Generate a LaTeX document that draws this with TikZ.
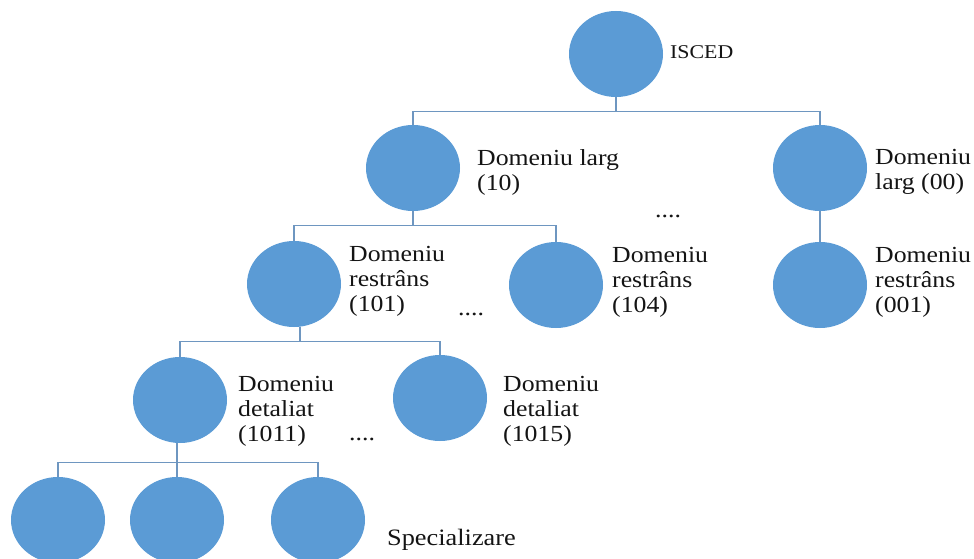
\documentclass[tikz,border=0pt]{standalone}
\usepackage{fontspec}
\setmainfont{Liberation Serif}[FakeStretch=1.12]
\usetikzlibrary{shapes.geometric,calc}
\definecolor{circ}{HTML}{5B9BD5}
\definecolor{connc}{RGB}{110,150,192}
\definecolor{txt}{HTML}{141414}
\begin{document}
\begin{tikzpicture}[x=1pt,y=-1pt,
  dom/.style={ellipse,fill=circ,minimum width=94pt,minimum height=86pt,inner sep=0pt},
  lbl/.style={anchor=north west,inner sep=0pt,align=left,text=txt,font=\fontsize{23}{25}\selectfont},
  single/.style={anchor=base west,inner sep=0pt,text=txt},
  conn/.style={draw=connc,line width=1.3pt}]
\clip (0,0) rectangle (974,559);
\useasboundingbox (0,0) rectangle (974,559);
% circles
\node[dom] (isced) at (616,54) {};
\node[dom] (l10) at (413,168) {};
\node[dom] (l00) at (820,168) {};
\node[dom] (r101) at (294,284) {};
\node[dom] (r104) at (556,285) {};
\node[dom] (r001) at (820,285) {};
\node[dom] (d1011) at (180,400) {};
\node[dom] (d1015) at (440,398) {};
\node[dom] (s1) at (58,520) {};
\node[dom] (s2) at (177,520) {};
\node[dom] (s3) at (318,520) {};
% connectors
\draw[conn] (isced.south) -- ++(0,14) -| (l10.north);
\draw[conn] (isced.south) -- ++(0,14) -| (l00.north);
\draw[conn] (l10.south) -- ++(0,14) -| (r101.north);
\draw[conn] (l10.south) -- ++(0,14) -| (r104.north);
\draw[conn] (l00.south) -- (r001.north);
\coordinate (r101b) at ($(r101.south)+(6,0)$);
\draw[conn] (r101b) -- ++(0,14) -| (d1011.north);
\draw[conn] (r101b) -- ++(0,14) -| (d1015.north);
\coordinate (d1011b) at ($(d1011.south)+(-3,0)$);
\draw[conn] (d1011b) -- ++(0,19) -| (s1.north);
\draw[conn] (d1011b) -- ++(0,19) -| (s2.north);
\draw[conn] (d1011b) -- ++(0,19) -| (s3.north);
% labels
\node[single,font=\fontsize{19.5}{22}\selectfont] (tisced) at (670,59) {ISCED};
\node[lbl] (tl10) at (477,149) {Domeniu larg\\(10)};
\node[lbl] (tl00) at (875,149) {Domeniu\\larg (00)};
\node[lbl] (tr101) at (349,246) {Domeniu\\restrâns\\(101)};
\node[lbl] (tr104) at (612,247) {Domeniu\\restrâns\\(104)};
\node[lbl] (tr001) at (875,247) {Domeniu\\restrâns\\(001)};
\node[lbl] (td1011) at (238,376) {Domeniu\\detaliat\\(1011)};
\node[lbl] (td1015) at (503,376) {Domeniu\\detaliat\\(1015)};
\node[single,font=\fontsize{23.5}{26}\selectfont] (tspec) at (387,545) {Specializare};
\node[single,font=\fontsize{23}{25}\selectfont] (dots1) at (655,217) {....};
\node[single,font=\fontsize{23}{25}\selectfont] (dots2) at (458,315) {....};
\node[single,font=\fontsize{23}{25}\selectfont] (dots3) at (349,440) {....};
\end{tikzpicture}
\end{document}
